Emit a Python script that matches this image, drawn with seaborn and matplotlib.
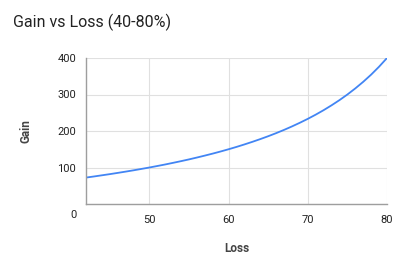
import matplotlib
matplotlib.use("Agg")
import matplotlib.pyplot as plt
import matplotlib.transforms as mtransforms
import seaborn as sns
import pandas as pd

# Data
loss = [42, 43, 44, 45, 46, 47, 48, 49, 50, 51, 52, 53, 54, 55, 56, 57, 58, 59, 60,
        61, 62, 63, 64, 65, 66, 67, 68, 69, 70, 71, 72, 73, 74, 75, 76, 77, 78, 79, 80]
gain = [72.4, 75.4, 78.6, 81.8, 85.2, 88.7, 92.3, 96.1, 100.0, 104.1, 108.3, 112.8,
        117.4, 122.2, 127.3, 132.6, 138.1, 143.9, 150.0, 156.4, 163.2, 170.3, 177.8,
        185.7, 194.1, 203.0, 212.5, 222.6, 233.3, 244.8, 257.1, 270.4, 284.6, 300.0,
        316.7, 334.8, 354.5, 376.2, 400.0]
x_ticks = [50, 60, 70, 80]
y_ticks = [0, 100, 200, 300, 400]

df = pd.DataFrame({"Loss": loss, "Gain": gain})

sns.set_theme(style="white")
plt.rcParams["font.family"] = ["Roboto", "DejaVu Sans"]

W, H = 409, 265
fig = plt.figure(figsize=(W / 100, H / 100), dpi=100)
ax = fig.add_axes([86 / W, 1 - 204 / H, (387 - 86) / W, (204 - 58) / H])

sns.lineplot(data=df, x="Loss", y="Gain", ax=ax, color="#4285F4", linewidth=1.3)

ax.set_xlim(42, 80)
ax.set_ylim(0, 400)
ax.set_xticks(x_ticks)
ax.set_yticks(y_ticks)
ax.set_xticklabels([str(v) for v in x_ticks])
ax.set_yticklabels([str(v) for v in y_ticks])
ax.tick_params(axis="both", length=0, labelsize=8, labelcolor="#222222", pad=7)
ax.tick_params(axis="x", pad=8)

# shift the "0" label below the axis line, as in the reference
lbl0 = ax.get_yticklabels()[0]
lbl0.set_transform(lbl0.get_transform() + mtransforms.ScaledTranslation(0, -10 / 100, fig.dpi_scale_trans))

ax.grid(True, color="#e0e0e0", linewidth=0.8)
for s in ["top", "right"]:
    ax.spines[s].set_visible(False)
for s in ["left", "bottom"]:
    ax.spines[s].set_color("#9e9e9e")
    ax.spines[s].set_linewidth(1.0)

ax.set_xlabel("Loss", fontsize=8.5, fontweight="bold", color="#444444", labelpad=12)
ax.set_ylabel("Gain", fontsize=8.5, fontweight="bold", color="#444444", labelpad=18)

fig.text(13 / W, 1 - 22 / H, "Gain vs Loss (40-80%)", fontsize=11.5, color="#222222",
         ha="left", va="center")

fig.savefig("out.png", dpi=100)
